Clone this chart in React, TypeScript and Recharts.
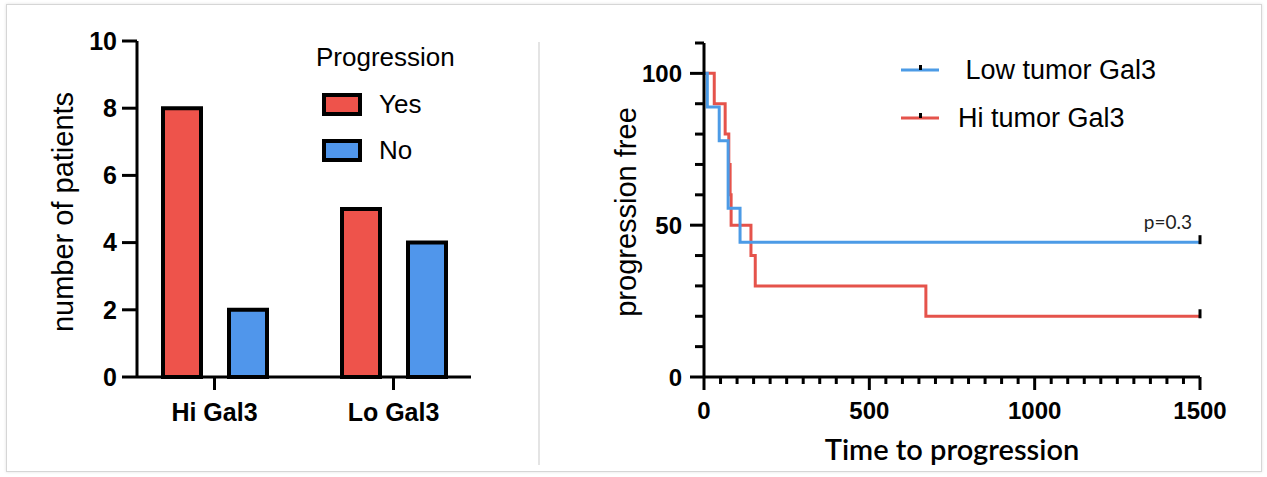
import React from "react";
import { BarChart, Bar, XAxis, YAxis, Legend, LineChart, Line, ReferenceDot } from "recharts";

const FONT = "'Liberation Sans', Arial, Helvetica, sans-serif";
const LATO = "Lato, 'Open Sans', sans-serif";

// left panel: patients per Gal3 group
const groups = ["Hi Gal3", "Lo Gal3"];
const progressionYes = [8, 5];
const progressionNo = [2, 4];
const countTicks = [0, 2, 4, 6, 8, 10];
const barNames = ["Yes", "No"];

// right panel: progression-free curves (time, % free)
const lowTimes = [0, 10, 46, 73, 109, 1500];
const lowFree = [100, 88.9, 77.8, 55.6, 44.4, 44.4];
const hiTimes = [0, 31, 64, 75, 79, 82, 142, 155, 671, 1500];
const hiFree = [100, 90, 80, 70, 60, 50, 40, 30, 20, 20];
const lowCensored = [1500];
const hiCensored = [1500];
const kmNames = [" Low tumor Gal3", "Hi tumor Gal3"];

const freeTicks = [0, 10, 20, 30, 40, 50, 60, 70, 80, 90, 100, 110];
const freeLabels = [0, 50, 100];
const timeLabels = [0, 500, 1000, 1500];
const timeTicks = Array.from({ length: 31 }, (_, i) => i * 50);

const RED_BAR = "#EE534B";
const BLUE_BAR = "#5096EB";
const RED_LINE = "#E5534B";
const BLUE_LINE = "#4C9BE6";

const barData = groups.map((g, i) => ({ group: g, yes: progressionYes[i], no: progressionNo[i] }));
const lowData = lowTimes.map((t, i) => ({ t, s: lowFree[i] }));
const hiData = hiTimes.map((t, i) => ({ t, s: hiFree[i] }));

function ProgressionLegend(props: any) {
  const items = [...(props.payload || [])].sort(
    (a: any, b: any) => barNames.indexOf(a.value) - barNames.indexOf(b.value)
  );
  return (
    <div style={{ fontFamily: FONT, fontSize: 26, color: "#000" }}>
      <div style={{ lineHeight: "30px", height: 30, marginBottom: 9 }}>Progression</div>
      {items.map((it: any) => (
        <div key={it.value} style={{ display: "flex", alignItems: "center", height: 46 }}>
          <div style={{ width: 32, height: 15, border: "4px solid #000", background: it.color, marginLeft: 6 }} />
          <span style={{ marginLeft: 17, lineHeight: "30px" }}>{it.value}</span>
        </div>
      ))}
    </div>
  );
}

function KmLegend(props: any) {
  const items = [...(props.payload || [])].sort(
    (a: any, b: any) => kmNames.indexOf(a.value) - kmNames.indexOf(b.value)
  );
  return (
    <div style={{ fontFamily: FONT, fontSize: 27, color: "#000" }}>
      {items.map((it: any) => (
        <div key={it.value} style={{ display: "flex", alignItems: "center", height: 48 }}>
          <svg width={38} height={12} style={{ display: "block" }}>
            <line x1={0} x2={38} y1={6} y2={6} stroke={it.color} strokeWidth={3} />
            <rect x={18} y={1} width={3} height={5} fill="#000" />
          </svg>
          <span style={{ marginLeft: 19, whiteSpace: "pre", lineHeight: "30px" }}>{it.value}</span>
        </div>
      ))}
    </div>
  );
}

function FreeTick(props: any) {
  const { x, y, payload } = props;
  const major = freeLabels.includes(payload.value);
  const len = major ? 14 : 9;
  return (
    <g>
      <line x1={x - len} x2={x} y1={y} y2={y} stroke="#000" strokeWidth={3} />
      {major && (
        <text x={x - 22} y={y} dy="0.36em" textAnchor="end" fontFamily={FONT} fontSize={24} fontWeight={700} fill="#000">
          {payload.value}
        </text>
      )}
    </g>
  );
}

function TimeTick(props: any) {
  const { x, y, payload } = props;
  const major = timeLabels.includes(payload.value);
  const len = major ? 13 : 7;
  return (
    <g>
      <line x1={x} x2={x} y1={y} y2={y + len} stroke="#000" strokeWidth={3} />
      {major && (
        <text x={x} y={y + 42} textAnchor="middle" fontFamily={FONT} fontSize={24} fontWeight={700} fill="#000">
          {payload.value}
        </text>
      )}
    </g>
  );
}

const censorDot = (times: number[]) => (props: any) => {
  const { cx, cy, payload, index } = props;
  if (!times.includes(payload.t)) return <g key={`c${index}`} />;
  return <rect key={`c${index}`} x={cx - 1.5} y={cy - 7} width={3} height={9} fill="#000" />;
};

export default function App() {
  return (
    <div style={{ position: "absolute", left: 0, top: 0, width: 1267, height: 477, background: "#fff", overflow: "hidden" }}>
      <div style={{ position: "absolute", left: 6, top: 4, width: 1254, height: 466, border: "1px solid #d6d6d6", boxShadow: "0 0 3px rgba(0,0,0,0.12)" }} />
      <div style={{ position: "absolute", left: 538, top: 42, width: 2, height: 423, background: "#e4e4e4" }} />

      <div style={{ position: "absolute", left: 0, top: 0 }}>
        <BarChart width={540} height={477} data={barData} margin={{ top: 41, right: 69, bottom: 0, left: 0 }} barSize={38} barGap={28}>
          <XAxis
            dataKey="group"
            height={100}
            padding={{ left: -12, right: -12 }}
            axisLine={{ stroke: "#000", strokeWidth: 3 }}
            tickLine={{ stroke: "#000", strokeWidth: 3 }}
            tickSize={13}
            tickMargin={13}
            tick={{ fill: "#000", fontSize: 25, fontWeight: 700, fontFamily: FONT }}
          />
          <YAxis
            width={137}
            domain={[0, 10]}
            ticks={countTicks}
            interval={0}
            axisLine={{ stroke: "#000", strokeWidth: 3 }}
            tickLine={{ stroke: "#000", strokeWidth: 3 }}
            tickSize={15}
            tickMargin={5}
            tick={{ fill: "#000", fontSize: 25, fontWeight: 700, fontFamily: FONT }}
            label={{ value: "number of patients", angle: -90, position: "center", dx: -6, dy: 3, fontSize: 29, fill: "#000", fontFamily: FONT }}
          />
          <Legend
            layout="vertical"
            align="center"
            verticalAlign="middle"
            content={<ProgressionLegend />}
            wrapperStyle={{ left: 316, top: 42, width: "auto" }}
          />
          <Bar dataKey="yes" name="Yes" fill={RED_BAR} stroke="#000" strokeWidth={4} isAnimationActive={false} />
          <Bar dataKey="no" name="No" fill={BLUE_BAR} stroke="#000" strokeWidth={4} isAnimationActive={false} />
        </BarChart>
      </div>

      <div style={{ position: "absolute", left: 540, top: 0 }}>
        <LineChart width={727} height={477} margin={{ top: 43, right: 67, bottom: 0, left: 0 }}>
          <XAxis
            type="number"
            dataKey="t"
            domain={[0, 1500]}
            ticks={timeTicks}
            interval={0}
            height={100}
            axisLine={{ stroke: "#000", strokeWidth: 3 }}
            tickLine={false}
            tickSize={0}
            tickMargin={0}
            tick={<TimeTick />}
            label={{ value: "Time to progression", position: "insideBottom", offset: 17, fontSize: 29, fontWeight: 600, fill: "#000", fontFamily: LATO }}
          />
          <YAxis
            type="number"
            domain={[0, 110]}
            ticks={freeTicks}
            interval={0}
            width={164}
            axisLine={{ stroke: "#000", strokeWidth: 3 }}
            tickLine={false}
            tickSize={0}
            tickMargin={0}
            tick={<FreeTick />}
            label={{ value: "progression free", angle: -90, position: "center", dx: 4, dy: 2, fontSize: 29, fill: "#000", fontFamily: FONT }}
          />
          <Legend
            layout="vertical"
            align="center"
            verticalAlign="middle"
            content={<KmLegend />}
            wrapperStyle={{ left: 361, top: 46, width: "auto" }}
          />
          <Line
            data={hiData}
            dataKey="s"
            name={kmNames[1]}
            type="stepAfter"
            stroke={RED_LINE}
            strokeWidth={3}
            dot={censorDot(hiCensored)}
            activeDot={false}
            isAnimationActive={false}
          />
          <Line
            data={lowData}
            dataKey="s"
            name={kmNames[0]}
            type="stepAfter"
            stroke={BLUE_LINE}
            strokeWidth={3}
            dot={censorDot(lowCensored)}
            activeDot={false}
            isAnimationActive={false}
          />
          <ReferenceDot
            x={1500}
            y={lowFree[lowFree.length - 1]}
            r={0}
            fill="none"
            stroke="none"
            label={{ value: "p=0.3", position: "left", offset: 8, dy: -20, fontSize: 19, fill: "#222", fontFamily: LATO }}
          />
        </LineChart>
      </div>
    </div>
  );
}
